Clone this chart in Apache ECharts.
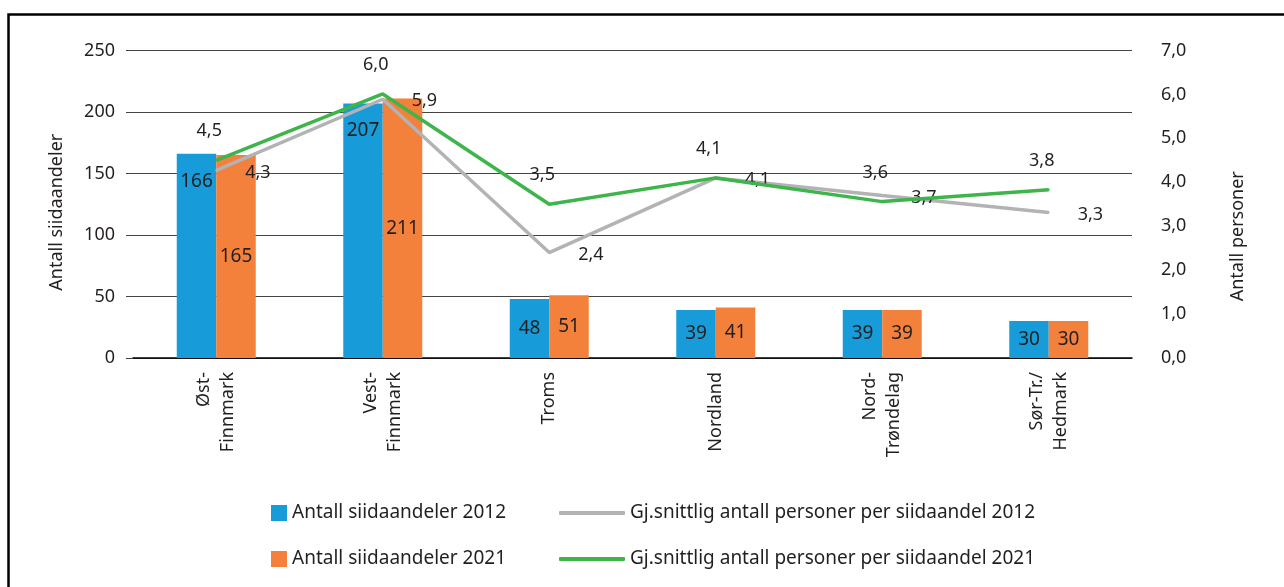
<!DOCTYPE html>
<html>
<head>
<meta charset="utf-8">
<script src="https://cdn.jsdelivr.net/npm/echarts@6/dist/echarts.min.js"></script>
<style>
  html, body { margin: 0; padding: 0; background: #fff; }
  #main { width: 1284px; height: 587px; }
</style>
</head>
<body>
<div id="main"></div>
<script>
// regioner
const categories = ['Øst-\nFinnmark', 'Vest-\nFinnmark', 'Troms', 'Nordland', 'Nord-\nTrøndelag', 'Sør-Tr./\nHedmark'];
// antall siidaandeler
const shares2012 = [166, 207, 48, 39, 39, 30];
const shares2021 = [165, 211, 51, 41, 39, 30];
// gj.snittlig antall personer per siidaandel
const persons2012 = [4.27, 5.89, 2.4, 4.1, 3.7, 3.31];
const persons2021 = [4.5, 6.01, 3.5, 4.1, 3.56, 3.83];
// akser
const leftTicks = { min: 0, max: 250, interval: 50 };
const rightTicks = { min: 0, max: 7, interval: 1 };

const FONT = 'Noto Sans';
const TXT = '#231f20';
const comma = v => Number(v).toFixed(1).replace('.', ',');

const myChart = echarts.init(document.getElementById('main'));

// tall i høye søyler står øverst, ellers i midten
const blueData = shares2012.map(v => ({
  value: v,
  label: { position: v > 100 ? 'insideTop' : 'inside' }
}));

const legendBase = {
  orient: 'horizontal',
  itemGap: 0,
  padding: 0,
  selectedMode: false,
  textStyle: { fontFamily: FONT, fontSize: 19, color: TXT, lineHeight: 20 }
};

myChart.setOption({
  animation: false,
  textStyle: { fontFamily: FONT },
  graphic: [{
    type: 'rect',
    shape: { x: 8.5, y: 14.5, width: 1400, height: 700 },
    style: { fill: 'none', stroke: '#000', lineWidth: 2.5 },
    silent: true
  }],
  grid: { left: 133, right: 152, top: 50.5, bottom: 229 },
  legend: [
    Object.assign({}, legendBase, { data: ['Antall siidaandeler 2012'], left: 271, top: 503, icon: 'rect', itemWidth: 16, itemHeight: 16 }),
    Object.assign({}, legendBase, { data: ['Antall siidaandeler 2021'], left: 271, top: 549, icon: 'rect', itemWidth: 16, itemHeight: 16 }),
    Object.assign({}, legendBase, { data: ['Gj.snittlig antall personer per siidaandel 2012'], left: 559, top: 503, icon: 'roundRect', itemWidth: 66, itemHeight: 4 }),
    Object.assign({}, legendBase, { data: ['Gj.snittlig antall personer per siidaandel 2021'], left: 559, top: 549, icon: 'roundRect', itemWidth: 66, itemHeight: 4 })
  ],
  xAxis: {
    type: 'category',
    data: categories,
    axisTick: { show: false },
    axisLine: { lineStyle: { color: '#000', width: 1.5 } },
    axisLabel: {
      rotate: 90,
      interval: 0,
      margin: 14,
      fontFamily: FONT,
      fontSize: 18,
      lineHeight: 24,
      color: TXT
    }
  },
  yAxis: [
    {
      type: 'value',
      min: leftTicks.min, max: leftTicks.max, interval: leftTicks.interval,
      name: 'Antall siidaandeler',
      nameLocation: 'middle',
      nameGap: 67,
      nameTextStyle: { fontFamily: FONT, fontSize: 18, color: TXT, padding: [0, 16, 0, 0] },
      axisLine: { show: false },
      axisTick: { show: true, length: 7, lineStyle: { color: '#444' } },
      axisLabel: { margin: 18, fontFamily: FONT, fontSize: 18, color: TXT },
      splitLine: { lineStyle: { color: '#444', width: 1.2 } }
    },
    {
      type: 'value',
      min: rightTicks.min, max: rightTicks.max, interval: rightTicks.interval,
      name: 'Antall personer',
      nameLocation: 'middle',
      nameGap: 97,
      nameTextStyle: { fontFamily: FONT, fontSize: 18, color: TXT, padding: [0, 64, 0, 0] },
      axisLine: { show: false },
      axisTick: { show: false },
      axisLabel: { margin: 29, fontFamily: FONT, fontSize: 18, color: TXT, formatter: comma },
      splitLine: { show: false }
    }
  ],
  series: [
    {
      name: 'Antall siidaandeler 2012',
      type: 'bar',
      barWidth: 39.5,
      barGap: 0,
      color: '#189cd9',
      label: { show: true, distance: 18, fontFamily: FONT, fontSize: 19, color: TXT },
      data: blueData
    },
    {
      name: 'Antall siidaandeler 2021',
      type: 'bar',
      barWidth: 39.5,
      color: '#f3803b',
      label: { show: true, position: 'inside', fontFamily: FONT, fontSize: 19, color: TXT },
      data: shares2021
    },
    {
      name: 'Gj.snittlig antall personer per siidaandel 2012',
      type: 'line',
      yAxisIndex: 1,
      color: '#b3b3b6',
      symbol: 'circle',
      symbolSize: 2,
      lineStyle: { width: 3.5, color: '#b3b3b6' },
      label: { show: true, position: 'right', distance: 28, offset: [0, 2], fontFamily: FONT, fontSize: 18, color: TXT, formatter: p => comma(p.value) },
      z: 3,
      data: persons2012
    },
    {
      name: 'Gj.snittlig antall personer per siidaandel 2021',
      type: 'line',
      yAxisIndex: 1,
      color: '#3db54a',
      symbol: 'circle',
      symbolSize: 2,
      lineStyle: { width: 3.5, color: '#3db54a' },
      label: { show: true, position: 'top', distance: 19, offset: [-7, 0], fontFamily: FONT, fontSize: 18, color: TXT, formatter: p => comma(p.value) },
      z: 4,
      data: persons2021
    }
  ]
});
</script>
</body>
</html>
